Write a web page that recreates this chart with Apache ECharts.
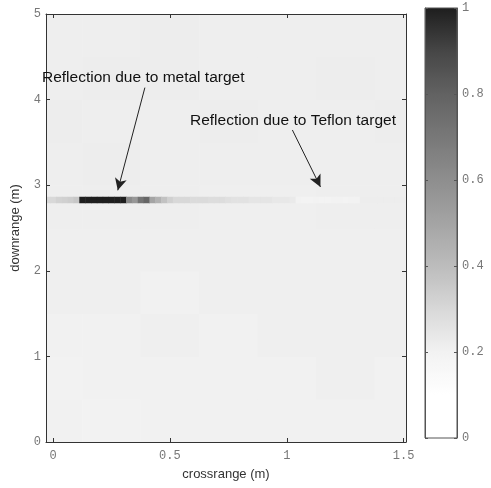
<!DOCTYPE html>
<html><head><meta charset="utf-8">
<script src="https://cdn.jsdelivr.net/npm/echarts@6/dist/echarts.min.js"></script>
<style>html,body{margin:0;padding:0;background:#fff}#c{width:491px;height:488px}</style>
</head><body><div id="c"></div>
<script>
// ---- data ----
const xTicks = [0, 0.5, 1, 1.5];
const yTicks = [0, 1, 2, 3, 4, 5];
const cbTicks = [0, 0.2, 0.4, 0.6, 0.8, 1];
// background amplitude, rows = downrange 0.25..4.75 (0.5 m bands), cols = crossrange 0..1.5 (0.25 m bands)
const bgDownrange = [0.25, 0.75, 1.25, 1.75, 2.25, 2.75, 3.25, 3.75, 4.25, 4.75];
const bgCrossrange = [0, 0.25, 0.5, 0.75, 1.0, 1.25, 1.5];
const bgAmplitude = [
  [0.205,0.200,0.205,0.205,0.205,0.205,0.205],
  [0.200,0.205,0.205,0.205,0.205,0.210,0.205],
  [0.205,0.205,0.210,0.205,0.210,0.210,0.210],
  [0.210,0.210,0.205,0.210,0.210,0.210,0.210],
  [0.210,0.210,0.210,0.210,0.210,0.210,0.210],
  [0.215,0.215,0.215,0.210,0.210,0.215,0.215],
  [0.215,0.220,0.215,0.215,0.215,0.215,0.215],
  [0.220,0.215,0.215,0.220,0.215,0.215,0.220],
  [0.215,0.220,0.220,0.215,0.215,0.220,0.215],
  [0.215,0.215,0.220,0.215,0.215,0.215,0.215]
];
// reflection row at downrange 2.83 m, crossrange -0.025 .. 1.5 step 0.025
const reflectionDownrange = 2.83;
const reflectionCrossrange = [];
for (let i = 0; i < 62; i++) reflectionCrossrange.push(+(-0.025 + i * 0.025).toFixed(3));
const reflectionAmplitude = [
  0.30,0.30,0.32,0.33,0.34,0.36,
  1.00,1.00,1.00,1.00,1.00,1.00,1.00,1.00,
  0.62,0.56,0.72,0.78,0.50,0.44,0.38,0.33,
  0.30,0.30,0.30,0.29,0.29,0.29,0.28,0.28,0.28,0.27,
  0.26,0.26,0.26,0.25,0.25,0.25,0.25,0.24,0.24,0.24,0.23,
  0.20,0.19,0.19,0.20,0.19,0.19,0.20,0.20,0.19,0.20,0.20,
  0.22,0.22,0.22,0.22,0.22,0.22,0.22,0.22
];

// ---- build chart ----
const BG_W = 0.25, BG_H = 0.5, RF_W = 0.025, RF_H = 0.07;
const bgData = [];
bgDownrange.forEach((y, r) => bgCrossrange.forEach((x, c) => bgData.push([x, y, bgAmplitude[r][c]])));
const rfData = reflectionCrossrange.map((x, i) => [x, reflectionDownrange, reflectionAmplitude[i]]);

function cellRenderer(w, h) {
  return function (params, api) {
    const x = api.value(0), y = api.value(1);
    const p0 = api.coord([x - w / 2, y + h / 2]);
    const p1 = api.coord([x + w / 2, y - h / 2]);
    const cs = params.coordSys;
    const shape = echarts.graphic.clipRectByRect(
      { x: p0[0], y: p0[1], width: p1[0] - p0[0] + 0.5, height: p1[1] - p0[1] + 0.5 },
      { x: cs.x, y: cs.y, width: cs.width, height: cs.height });
    if (!shape) return;
    return { type: 'rect', shape: shape, style: { fill: api.visual('color') } };
  };
}

const monoLabel = { fontFamily: 'Liberation Mono', fontSize: 12, color: '#777' };
const axisLineStyle = { onZero: false, lineStyle: { color: '#333', width: 1 } };

const chart = echarts.init(document.getElementById('c'), null, { renderer: 'canvas' });
chart.setOption({
  animation: false,
  backgroundColor: '#fff',
  grid: [
    { left: 46, top: 14, width: 360, height: 428 },
    { left: 425, top: 8, width: 32, height: 430, show: true, borderColor: '#555', borderWidth: 1, backgroundColor: 'transparent', z: 10 }
  ],
  xAxis: [
    { type: 'value', gridIndex: 0, z: 10, min: -0.03, max: 1.51, position: 'bottom',
      name: 'crossrange (m)', nameLocation: 'middle', nameGap: 26,
      nameTextStyle: { fontFamily: 'Liberation Sans', fontSize: 13, color: '#333' },
      axisLine: { show: true, ...axisLineStyle }, splitLine: { show: false },
      axisTick: { show: true, inside: true, length: 4, customValues: xTicks, lineStyle: { color: '#333' } },
      axisLabel: { ...monoLabel, margin: 8, customValues: xTicks, formatter: v => String(v) } },
    { type: 'value', gridIndex: 0, z: 10, min: -0.03, max: 1.51, position: 'top',
      axisLine: { show: true, ...axisLineStyle }, splitLine: { show: false },
      axisTick: { show: true, inside: true, length: 4, customValues: xTicks, lineStyle: { color: '#333' } },
      axisLabel: { show: false } },
    { type: 'value', gridIndex: 1, show: false, min: 0, max: 1 }
  ],
  yAxis: [
    { type: 'value', gridIndex: 0, z: 10, min: 0, max: 5, interval: 1, position: 'left',
      name: 'downrange (m)', nameLocation: 'middle', nameGap: 24, nameRotate: 90,
      nameTextStyle: { fontFamily: 'Liberation Sans', fontSize: 13, color: '#333' },
      axisLine: { show: true, ...axisLineStyle }, splitLine: { show: false },
      axisTick: { show: true, inside: true, length: 4, lineStyle: { color: '#333' } },
      axisLabel: { ...monoLabel, margin: 5 } },
    { type: 'value', gridIndex: 0, z: 10, min: 0, max: 5, interval: 1, position: 'right',
      axisLine: { show: true, ...axisLineStyle }, splitLine: { show: false },
      axisTick: { show: true, inside: true, length: 4, lineStyle: { color: '#333' } },
      axisLabel: { show: false } },
    { type: 'value', gridIndex: 1, z: 10, min: 0, max: 1, interval: 0.2, position: 'right',
      axisLine: { show: true, onZero: false, lineStyle: { color: '#555' } }, splitLine: { show: false },
      axisTick: { show: true, inside: true, length: 3, lineStyle: { color: '#555' } },
      axisLabel: { ...monoLabel, margin: 5, formatter: v => v === 0 ? '0' : v === 1 ? '1' : v.toFixed(1) } },
    { type: 'value', gridIndex: 1, z: 10, min: 0, max: 1, interval: 0.2, position: 'left',
      axisLine: { show: true, onZero: false, lineStyle: { color: '#555' } }, splitLine: { show: false },
      axisTick: { show: true, inside: true, length: 3, lineStyle: { color: '#555' } },
      axisLabel: { show: false } }
  ],
  visualMap: {
    type: 'continuous', min: 0, max: 1, seriesIndex: [0, 1],
    left: 425, top: 8, itemWidth: 32, itemHeight: 430, padding: 0,
    calculable: false, showLabel: false, text: null, hoverLink: false,
    inRange: { color: ['#ffffff','#ffffff','#f2f2f2','#d8d8d8','#bcbcbc','#a4a4a4','#8e8e8e','#787878','#626262','#464646','#1e1e1e'] }
  },
  series: [
    { type: 'custom', xAxisIndex: 0, yAxisIndex: 0, data: bgData, renderItem: cellRenderer(BG_W, BG_H), encode: { x: 0, y: 1 }, silent: true },
    { type: 'custom', xAxisIndex: 0, yAxisIndex: 0, data: rfData, renderItem: cellRenderer(RF_W, RF_H), encode: { x: 0, y: 1 }, silent: true },
    { type: 'scatter', xAxisIndex: 0, yAxisIndex: 0, data: [], silent: true,
      markLine: { silent: true, symbol: ['none', 'arrow'], symbolSize: [9, 12],
        lineStyle: { color: '#222', width: 1, type: 'solid' }, label: { show: false },
        data: [
          [{ coord: [0.393, 4.14] }, { coord: [0.277, 2.94] }],
          [{ coord: [1.024, 3.645] }, { coord: [1.144, 2.98] }]
        ] } },
    { type: 'line', xAxisIndex: 2, yAxisIndex: 2, data: [], silent: true }
  ],
  graphic: [
    { type: 'text', left: 42, top: 70, z: 100, style: { text: 'Reflection due to metal target', fontFamily: 'Liberation Sans', fontSize: 15.5, fill: '#111' } },
    { type: 'text', left: 190, top: 113, z: 100, style: { text: 'Reflection due to Teflon target', fontFamily: 'Liberation Sans', fontSize: 15.5, fill: '#111' } }
  ]
});
</script></body></html>
